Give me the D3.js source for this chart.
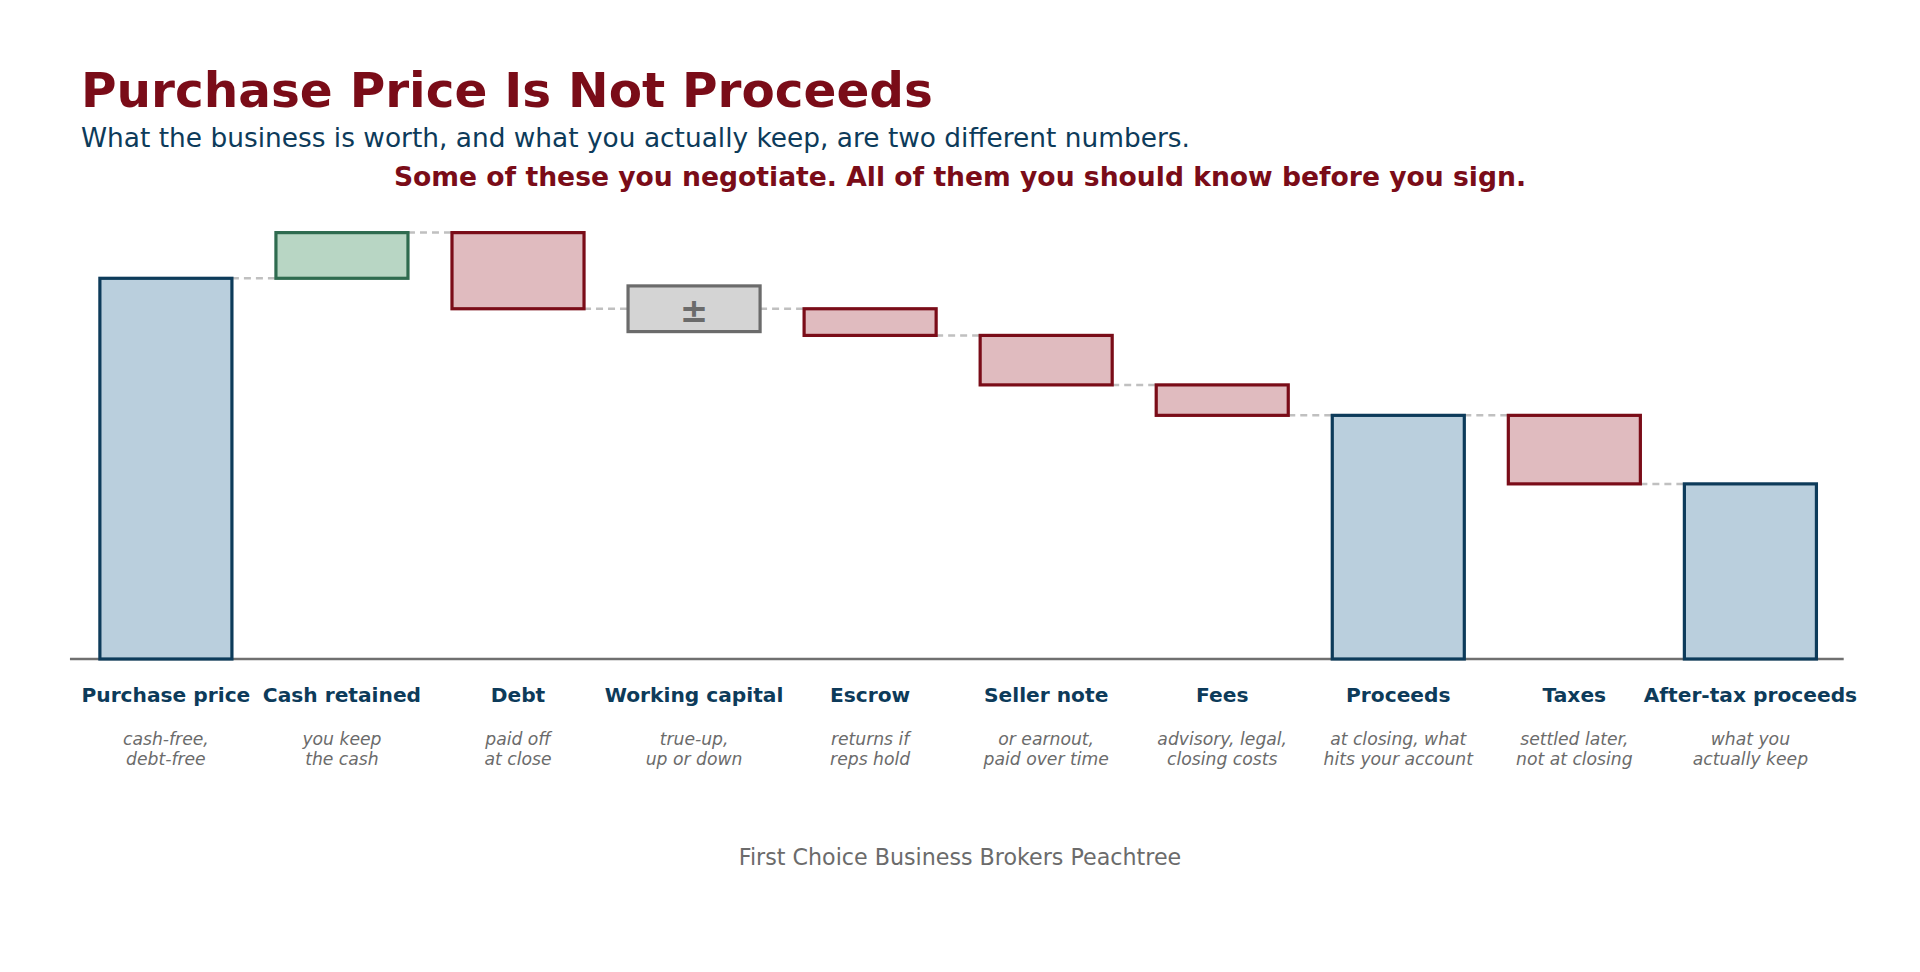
<!DOCTYPE html>
<html><head><meta charset="utf-8">
<script src="https://cdn.jsdelivr.net/npm/d3@7/dist/d3.min.js"></script>
<style>
html,body{margin:0;padding:0;background:#fff;}
svg{display:block;font-family:"DejaVu Sans",sans-serif;}
</style></head>
<body>
<svg id="c" width="1920" height="972"></svg>
<script>
// ---- data ----
const categories = ["Purchase price","Cash retained","Debt","Working capital","Escrow","Seller note","Fees","Proceeds","Taxes","After-tax proceeds"];
const subLabels = [["cash-free,","debt-free"],["you keep","the cash"],["paid off","at close"],["true-up,","up or down"],["returns if","reps hold"],["or earnout,","paid over time"],["advisory, legal,","closing costs"],["at closing, what","hits your account"],["settled later,","not at closing"],["what you","actually keep"]];
const kinds = ["total","up","down","neutral","down","down","down","total","down","total"];
const values = [10.0, 1.2, -2.0, 0.0, -0.7, -1.3, -0.8, 6.4, -1.8, 4.6];
const neutralRange = 0.6;

const title = "Purchase Price Is Not Proceeds";
const subtitle = "What the business is worth, and what you actually keep, are two different numbers.";
const tagline = "Some of these you negotiate. All of them you should know before you sign.";
const footer = "First Choice Business Brokers Peachtree";

const styles = {
  total:{fill:"#bacfdd",stroke:"#0d3b5a"},
  up:{fill:"#b8d6c4",stroke:"#2e6b4f"},
  down:{fill:"#e0bbbf",stroke:"#7a0c18"},
  neutral:{fill:"#d4d4d4",stroke:"#6b6b6b"}
};

// build waterfall segments
let run = 0;
const segs = values.map((v,i)=>{
  const k = kinds[i];
  let y0,y1;
  if(k==="total"){ y0=0; y1=v; run=v; }
  else if(k==="neutral"){ y0=run-neutralRange; y1=run+neutralRange; }
  else { y0=run; y1=run+v; run=run+v; }
  return {i, cat:categories[i], kind:k, lo:Math.min(y0,y1), hi:Math.max(y0,y1), level:run};
});

const svg = d3.select("#c");
const x = d3.scaleLinear().domain([0, 9]).range([165.9, 1750.4]);
const y = d3.scaleLinear().domain([0, 10]).range([659, 278.3]);
const bw = 0.75;

// titles
svg.append("text").attr("x",81).attr("y",106.5).attr("fill","#7a0c18")
  .attr("font-weight","bold").attr("font-size",48.5).text(title);
svg.append("text").attr("x",81).attr("y",146.5).attr("fill","#0d3b5a")
  .attr("font-size",26.4).text(subtitle);
svg.append("text").attr("x",960).attr("y",186).attr("text-anchor","middle").attr("fill","#7a0c18")
  .attr("font-weight","bold").attr("font-size",26.6).text(tagline);

// connectors
const conn = svg.append("g");
segs.slice(0,-1).forEach((s,i)=>{
  conn.append("line")
    .attr("x1", x(i+bw/2)).attr("x2", x(i+1-bw/2))
    .attr("y1", y(s.level)).attr("y2", y(s.level))
    .attr("stroke","#c0c0c0").attr("stroke-width",2.5).attr("stroke-dasharray","7,5");
});

// baseline
svg.append("line").attr("x1",x(-0.545)).attr("x2",x(9.53)).attr("y1",y(0)).attr("y2",y(0))
  .attr("stroke","#707070").attr("stroke-width",2.5);

// bars
svg.append("g").selectAll("rect").data(segs).join("rect")
  .attr("x", d=>x(d.i-bw/2)).attr("width", d=>x(d.i+bw/2)-x(d.i-bw/2))
  .attr("y", d=>y(d.hi)).attr("height", d=>y(d.lo)-y(d.hi))
  .attr("fill", d=>styles[d.kind].fill).attr("stroke", d=>styles[d.kind].stroke)
  .attr("stroke-width",3.2);

// plus-minus
segs.filter(d=>d.kind==="neutral").forEach(d=>{
  svg.append("text").attr("x",x(d.i)).attr("y",(y(d.lo)+y(d.hi))/2+1)
    .attr("text-anchor","middle").attr("dominant-baseline","central")
    .attr("fill","#6b6b6b").attr("font-weight","bold").attr("font-size",34).text("±");
});

// category labels
const lab = svg.append("g");
categories.forEach((c,i)=>{
  lab.append("text").attr("x",x(i)).attr("y",701.7).attr("text-anchor","middle")
    .attr("fill","#0d3b5a").attr("font-weight","bold").attr("font-size",20.2).text(c);
  subLabels[i].forEach((t,j)=>{
    lab.append("text").attr("x",x(i)).attr("y",744.5+j*20.8).attr("text-anchor","middle")
      .attr("fill","#6b6b6b").attr("font-style","italic").attr("font-size",17.2).text(t);
  });
});

svg.append("text").attr("x",960).attr("y",864.7).attr("text-anchor","middle")
  .attr("fill","#6b6b6b").attr("font-size",22.2).text(footer);
</script>
</body></html>
